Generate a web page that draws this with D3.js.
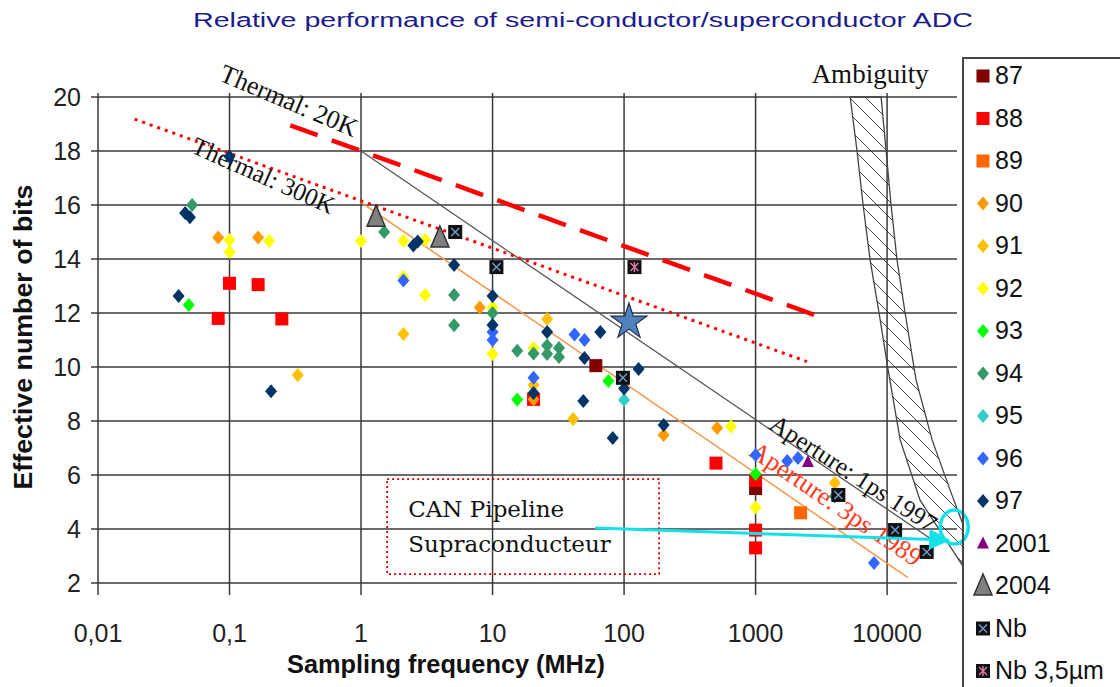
<!DOCTYPE html>
<html><head><meta charset="utf-8">
<script src="https://cdn.jsdelivr.net/npm/d3@7"></script>
<style>body{margin:0;background:#fff}svg{display:block}</style>
</head><body>
<svg id="c" width="1120" height="687"></svg>
<script>
// ---------- DATA ----------
const xTicks = [0.01, 0.1, 1, 10, 100, 1000, 10000];
const xTickLabels = ["0,01", "0,1", "1", "10", "100", "1000", "10000"];
const yTicks = [2, 4, 6, 8, 10, 12, 14, 16, 18, 20];
const legendLabels = ["87","88","89","90","91","92","93","94","95","96","97","2001","2004","Nb","Nb 3,5µm"];

// [frequency MHz, effective bits]
const s87 = [[61,10.05],[1000,5.5]];
const s88 = [[0.1,13.1],[0.165,13.05],[0.082,11.8],[0.25,11.78],[20.5,8.8],[500,6.44],[1000,5.8],[1000,3.96],[1000,3.3]];
const s89 = [[2200,4.6]];
const s90 = [[0.082,14.8],[0.165,14.8],[8,12.2],[200,7.48],[510,7.74],[20.5,8.8]];
const s91 = [[0.33,9.7],[2.1,11.22],[26,11.78],[20.5,9.33],[41,8.07],[4000,5.7]];
const s92 = [[0.1,14.7],[0.1,14.26],[0.2,14.67],[1,14.67],[2.1,14.67],[3.07,14.7],[2.1,13.33],[3.07,12.67],[10,12.2],[10,10.48],[20.5,10.7],[650,7.8],[1000,4.8]];
const s93 = [[0.049,12.3],[15.4,8.8],[76,9.48],[1000,6.04]];
const s94 = [[0.052,16.0],[1.5,15.0],[5.1,12.67],[5.1,11.55],[10,12.0],[15.4,10.6],[20.5,10.5],[26,10.8],[26,10.48],[32,10.7],[32,10.37],[4000,5.2]];
const s95 = [[100,8.78]];
const s96 = [[2.1,13.2],[10,11.3],[10,11.0],[20.5,9.6],[42,11.2],[50,11.0],[1000,6.74],[1740,6.52],[2100,6.63],[7950,2.74]];
const s97 = [[0.1,17.8],[0.046,15.7],[0.05,15.55],[0.041,12.63],[0.207,9.1],[2.5,14.5],[2.7,14.65],[5.1,13.78],[10,12.63],[10,11.56],[26,11.3],[66,11.3],[50,10.33],[129,9.93],[100,9.2],[20.5,9.04],[49,8.74],[82,7.37],[200,7.85]];
const s2001 = [[2500,6.48]];
const s2004 = [[1.3,15.55],[3.98,14.78]];
const sNb = [[5.2,15.0],[10.7,13.7],[98,9.6],[4260,5.26],[11500,3.96],[20000,3.15]];
const sNb35 = [[120,13.7]];
const sStar = [[109,11.67]];

// reference lines [frequency, bits]
const thermal20K = [[0.29,18.95],[3100,11.85]];
const thermal300K = [[0.019,19.18],[2460,10.2]];
const aperture1ps = [[1,18],[22000,3.6]];
const aperture3ps = [[1,16.1],[14400,2.2]];
// ambiguity zone outline
const ambiguity = [[5240,20],[5920,17.96],[6570,16],[7430,13.96],[8690,12],[10180,9.89],[12570,7.3],[17800,5.07],[37150,2.67],
                   [39200,3.96],[30130,5.44],[21990,7.3],[16600,9.52],[13710,12],[11900,13.96],[10720,16],[9660,18.4],[9000,20]];
// annotation box & arrow
const noteBox = [[1.58,5.85],[184.6,2.33]];
const noteLines = ["CAN Pipeline","Supraconducteur"];
const arrowPts = [[60.3,4.04],[29100,3.59]];
const circlePt = [32400,4.07];

// ---------- CHART ----------
const svg = d3.select("#c");
const L = 98, R = 957, T = 97, B = 583;
const x = d3.scaleLog().domain([0.01, 34000]).range([L, R]);
const y = d3.scaleLinear().domain([2, 20]).range([B, T]);
const P = d => [x(d[0]), y(d[1])];
const SANS = "Liberation Sans, Arial, sans-serif";
const SERIF = "Liberation Serif, Times New Roman, serif";

// title
svg.append("text").attr("x", 583).attr("y", 27).attr("text-anchor","middle")
  .attr("font-family",SANS).attr("font-size",20)
  .attr("fill","#1c1c8c").attr("textLength",780).attr("lengthAdjust","spacingAndGlyphs")
  .text("Relative performance of semi-conductor/superconductor ADC");

// grid
const grid = svg.append("g").attr("stroke","#3a3a3a").attr("stroke-width",1.5);
grid.selectAll(".h").data(yTicks).join("line")
  .attr("x1", L-7).attr("x2", R).attr("y1", d=>y(d)).attr("y2", d=>y(d));
grid.selectAll(".v").data(xTicks).join("line")
  .attr("x1", d=>x(d)).attr("x2", d=>x(d)).attr("y1", T-4).attr("y2", B+12);

// axes labels
svg.append("g").selectAll("text").data(yTicks).join("text")
  .attr("x", 81).attr("y", d=>y(d)+9).attr("text-anchor","end")
  .attr("font-family",SANS).attr("font-size",25).attr("fill","#222")
  .text(d=>d);
svg.append("g").selectAll("text").data(xTicks).join("text")
  .attr("x", d=>x(d)).attr("y", 642).attr("text-anchor","middle")
  .attr("font-family",SANS).attr("font-size",25).attr("fill","#222")
  .text((d,i)=>xTickLabels[i]);
svg.append("text").attr("x", 446).attr("y", 673).attr("text-anchor","middle")
  .attr("font-family",SANS).attr("font-size",25).attr("font-weight","bold")
  .attr("fill","#111").attr("textLength",318).attr("lengthAdjust","spacingAndGlyphs").text("Sampling frequency (MHz)");
svg.append("text").attr("transform","translate(32,337) rotate(-90)").attr("text-anchor","middle")
  .attr("font-family",SANS).attr("font-size",25).attr("font-weight","bold")
  .attr("fill","#111").attr("textLength",305).attr("lengthAdjust","spacingAndGlyphs").text("Effective number of bits");

// ambiguity zone
const defs = svg.append("defs");
defs.append("pattern").attr("id","hatch").attr("patternUnits","userSpaceOnUse").attr("width",16).attr("height",16)
  .append("path").attr("d","M-4,-4 L20,20 M-4,12 L4,20 M12,-4 L20,4").attr("stroke","#444").attr("stroke-width",1);
defs.append("clipPath").attr("id","clipR").append("rect").attr("x",0).attr("y",0).attr("width",963).attr("height",687);
svg.append("path").attr("clip-path","url(#clipR)")
  .attr("d", d3.line()(ambiguity.map(P)) + "Z")
  .attr("fill","url(#hatch)").attr("stroke","#444").attr("stroke-width",1.3);
svg.append("text").attr("x", x(7430)).attr("y", y(20)-14).attr("text-anchor","middle")
  .attr("font-family",SERIF).attr("font-size",27).attr("fill","#111").text("Ambiguity");

// reference lines
const line = d3.line().x(d=>x(d[0])).y(d=>y(d[1]));
svg.append("path").attr("d", line(aperture1ps)).attr("stroke","#555").attr("stroke-width",1.3).attr("fill","none");
svg.append("path").attr("d", line(aperture3ps)).attr("stroke","#f79646").attr("stroke-width",1.5).attr("fill","none");
svg.append("path").attr("d", line(thermal20K)).attr("stroke","#ff0000").attr("stroke-width",4.5).attr("fill","none").attr("stroke-dasharray","29,15");
svg.append("path").attr("d", line(thermal300K)).attr("stroke","#ff0000").attr("stroke-width",3).attr("fill","none").attr("stroke-dasharray","3,5");

// line labels
function rotLabel(f, b, ang, txt, color, fs) {
  svg.append("text").attr("transform", `translate(${x(f)},${y(b)}) rotate(${ang})`)
    .attr("font-family",SERIF).attr("font-size",fs).attr("fill",color).text(txt);
}
rotLabel(0.0818, 20.63, 23, "Thermal: 20K", "#111", 26);
rotLabel(0.0501, 17.96, 24, "Thermal: 300K", "#111", 25);
rotLabel(1245, 7.74, 33, "Aperture: 1ps 1997", "#111", 25);
rotLabel(877, 6.74, 34, "Aperture: 3ps 1989", "#ff3a1a", 26);

// markers
function drawMarker(g, shape, color, cx, cy) {
  if (shape === "sq") {
    g.append("rect").attr("x",cx-6.5).attr("y",cy-6.5).attr("width",13).attr("height",13).attr("fill",color);
  } else if (shape === "dia") {
    g.append("path").attr("d",`M${cx},${cy-7}L${cx+6},${cy}L${cx},${cy+7}L${cx-6},${cy}Z`).attr("fill",color);
  } else if (shape === "tri") {
    g.append("path").attr("d",`M${cx},${cy-7}L${cx+6},${cy+5}L${cx-6},${cy+5}Z`).attr("fill",color);
  } else if (shape === "bigtri") {
    g.append("path").attr("d",`M${cx},${cy-12}L${cx+9},${cy+9}L${cx-9},${cy+9}Z`).attr("fill",color).attr("stroke","#333").attr("stroke-width",1.5);
  } else if (shape === "nb" || shape === "nb35") {
    g.append("rect").attr("x",cx-7).attr("y",cy-7).attr("width",14).attr("height",14).attr("fill","#111");
    g.append("path").attr("d",`M${cx-4},${cy-4}L${cx+4},${cy+4}M${cx+4},${cy-4}L${cx-4},${cy+4}` + (shape==="nb35"?`M${cx},${cy-5}L${cx},${cy+5}`:""))
      .attr("stroke",color).attr("stroke-width",1.4);
  } else if (shape === "star") {
    g.append("path").attr("d", d3.symbol().type(d3.symbolStar).size(400)()).attr("transform",`translate(${cx},${cy})`)
      .attr("fill",color).attr("stroke","#1f3050").attr("stroke-width",1.2);
  }
}
const series = [
  {label:"87", data:s87, shape:"sq", color:"#800000"},
  {label:"88", data:s88, shape:"sq", color:"#ff0000"},
  {label:"89", data:s89, shape:"sq", color:"#ff6600"},
  {label:"90", data:s90, shape:"dia", color:"#ff9900"},
  {label:"91", data:s91, shape:"dia", color:"#ffc000"},
  {label:"92", data:s92, shape:"dia", color:"#ffff00"},
  {label:"93", data:s93, shape:"dia", color:"#00ff00"},
  {label:"94", data:s94, shape:"dia", color:"#339966"},
  {label:"95", data:s95, shape:"dia", color:"#33cccc"},
  {label:"96", data:s96, shape:"dia", color:"#3366ff"},
  {label:"97", data:s97, shape:"dia", color:"#003366"},
  {label:"2001", data:s2001, shape:"tri", color:"#800080"},
  {label:"2004", data:s2004, shape:"bigtri", color:"#808080"},
  {label:"Nb", data:sNb, shape:"nb", color:"#6f9fd8"},
  {label:"Nb 3,5µm", data:sNb35, shape:"nb35", color:"#e07ab0"}
];
const pts = svg.append("g");
series.forEach(s => s.data.forEach(d => drawMarker(pts, s.shape, s.color, x(d[0]), y(d[1]))));
sStar.forEach(d => drawMarker(pts, "star", "#4f81bd", x(d[0]), y(d[1])));

// note box
svg.append("rect").attr("x", x(noteBox[0][0])).attr("y", y(noteBox[0][1]))
  .attr("width", x(noteBox[1][0]) - x(noteBox[0][0])).attr("height", y(noteBox[1][1]) - y(noteBox[0][1]))
  .attr("fill","none").attr("stroke","#cc0000").attr("stroke-width",1.8).attr("stroke-dasharray","2,3");
noteLines.forEach((t,i) => svg.append("text").attr("x", x(noteBox[0][0]) + 21).attr("y", y(noteBox[0][1]) + 38 + i*35)
  .attr("font-family","DejaVu Serif, serif").attr("font-size",23).attr("fill","#111").text(t));

// arrow
const [a0, a1] = arrowPts.map(P);
defs.append("marker").attr("id","ah").attr("viewBox","0 0 10 10").attr("refX",9).attr("refY",5)
  .attr("markerWidth",7).attr("markerHeight",7).attr("orient","auto").attr("markerUnits","strokeWidth")
  .append("path").attr("d","M0,0L10,5L0,10Z").attr("fill","#14e0ea");
svg.append("line").attr("x1",a0[0]).attr("y1",a0[1]).attr("x2",a1[0]).attr("y2",a1[1])
  .attr("stroke","#14e0ea").attr("stroke-width",3).attr("marker-end","url(#ah)");
svg.append("ellipse").attr("cx", x(circlePt[0])).attr("cy", y(circlePt[1])).attr("rx",14).attr("ry",17)
  .attr("fill","none").attr("stroke","#14e0ea").attr("stroke-width",3.5);

// legend
const lg = svg.append("g");
lg.append("path").attr("d","M963,687V58H1120").attr("fill","none").attr("stroke","#444").attr("stroke-width",2);
legendLabels.forEach((lab,i) => {
  const s = series.find(q => q.label === lab);
  const cy = 76 + i*42.5;
  drawMarker(lg, s.shape, s.color, 983, cy);
  lg.append("text").attr("x", 995).attr("y", cy+8).attr("font-family",SANS)
    .attr("font-size", 25).attr("fill","#111").text(lab);
});
</script>
</body></html>
